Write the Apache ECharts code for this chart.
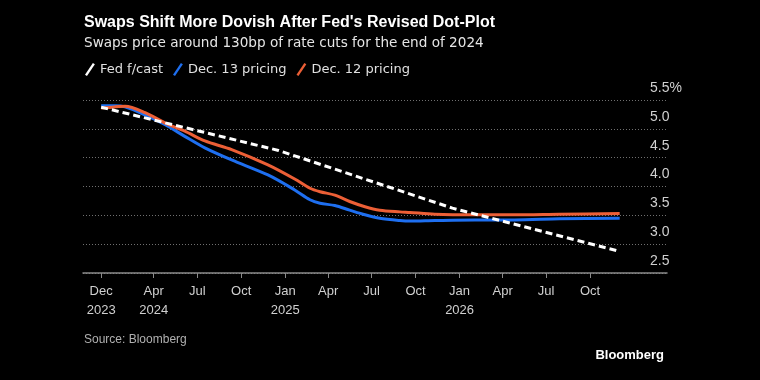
<!DOCTYPE html>
<html>
<head>
<meta charset="utf-8">
<script src="https://cdn.jsdelivr.net/npm/echarts@6/dist/echarts.min.js"></script>
<style>
html,body{margin:0;padding:0;background:#000;}
#c{width:760px;height:380px;}
</style>
</head>
<body>
<div id="c"></div>
<script>
// ---- data ----
var fedDates = ['2023-12-13', '2024-12-18', '2025-12-17', '2026-12-02'];
var fedValues = [5.375, 4.625, 3.625, 2.875];

var pricingDates = ['2023-12-13', '2024-01-10', '2024-02-01', '2024-03-14', '2024-04-25', '2024-06-05', '2024-07-17',
  '2024-09-11', '2024-11-26', '2025-01-21', '2025-02-22', '2025-03-15', '2025-04-15', '2025-05-16',
  '2025-06-17', '2025-07-18', '2025-08-29', '2025-09-19', '2025-11-10', '2026-02-02', '2026-04-26',
  '2026-07-29', '2026-12-02'];
var dec13Values = [5.40, 5.40, 5.38, 5.24, 5.07, 4.87, 4.67, 4.46, 4.20, 3.94, 3.77, 3.71, 3.67, 3.59,
  3.51, 3.45, 3.41, 3.40, 3.41, 3.42, 3.42, 3.44, 3.45];
var dec12Values = [5.36, 5.38, 5.39, 5.28, 5.10, 4.96, 4.79, 4.64, 4.375, 4.13, 3.97, 3.91, 3.85, 3.74,
  3.65, 3.59, 3.56, 3.55, 3.52, 3.51, 3.51, 3.52, 3.53];

var tickDates = ['2023-12-13', '2024-04-01', '2024-07-01', '2024-10-01', '2025-01-01', '2025-04-01',
  '2025-07-01', '2025-10-01', '2026-01-01', '2026-04-01', '2026-07-01', '2026-10-01'];
var tickLabels = ['Dec\n2023', 'Apr\n2024', 'Jul', 'Oct', 'Jan\n2025', 'Apr', 'Jul', 'Oct', 'Jan\n2026', 'Apr', 'Jul', 'Oct'];

var yTicks = [2.5, 3.0, 3.5, 4.0, 4.5, 5.0, 5.5];
var yTickLabels = ['2.5', '3.0', '3.5', '4.0', '4.5', '5.0', '5.5%'];

var seriesNames = ['Fed f/cast', 'Dec. 13 pricing', 'Dec. 12 pricing'];

// ---- build ----
function ts(d) { return new Date(d + 'T00:00:00Z').getTime(); }
function pairs(ds, vs) { return ds.map(function (d, i) { return [ts(d), vs[i]]; }); }
var tickTs = tickDates.map(ts);

var chart = echarts.init(document.getElementById('c'), null, { renderer: 'canvas' });
var slash = 'path://M0,12 L8,0 L10,1.2 L2,13.2 Z';
var FONT = 'Liberation Sans';
var WIDE = 'DejaVu Sans';
chart.setOption({
  backgroundColor: '#000',
  animation: false,
  title: [
    { text: "Swaps Shift More Dovish After Fed's Revised Dot-Plot", left: 84, top: 15, padding: 0,
      textStyle: { color: '#fff', fontSize: 16, fontWeight: 'bold', fontFamily: 'Liberation Sans' } },
    { text: 'Swaps price around 130bp of rate cuts for the end of 2024', left: 84, top: 36, padding: 0,
      textStyle: { color: '#e6e6e6', fontSize: 13.6, fontWeight: 'normal', fontFamily: WIDE } },
    { text: 'Source: Bloomberg', left: 84, top: 334, padding: 0,
      textStyle: { color: '#b0b0b0', fontSize: 12, fontWeight: 'normal', fontFamily: FONT } },
    { text: 'Bloomberg', right: 96, top: 349, padding: 0,
      textStyle: { color: '#fff', fontSize: 13, fontWeight: 'bold', fontFamily: FONT } }
  ],
  legend: {
    left: 85, top: 63, padding: 0, icon: slash, itemWidth: 10, itemHeight: 13, itemGap: 10,
    data: seriesNames,
    textStyle: { color: '#e0e0e0', fontSize: 13, fontFamily: WIDE }
  },
  grid: { left: 83, right: 93, top: 100, bottom: 107, containLabel: false },
  xAxis: {
    type: 'value',
    min: ts('2023-11-05'), max: ts('2027-03-11'),
    axisLine: { onZero: false, lineStyle: { color: '#8a8a8a', width: 1.5 } },
    axisTick: { show: true, customValues: tickTs, length: 5, lineStyle: { color: '#8a8a8a' } },
    axisLabel: {
      customValues: tickTs, color: '#d0d0d0', fontSize: 13, fontFamily: FONT, lineHeight: 19, margin: 9,
      formatter: function (v) { var i = tickTs.indexOf(v); return i >= 0 ? tickLabels[i] : ''; }
    },
    splitLine: { show: false }
  },
  yAxis: {
    type: 'value', position: 'right', min: 2.5, max: 5.5, interval: 0.5,
    axisLine: { show: false }, axisTick: { show: false },
    axisLabel: {
      inside: true, align: 'left', verticalAlign: 'bottom', margin: 17, color: '#d0d0d0', fontSize: 14,
      fontFamily: FONT, padding: [0, 0, 5, 0],
      formatter: function (v) { var i = yTicks.indexOf(Math.round(v * 10) / 10); return i >= 0 ? yTickLabels[i] : ''; }
    },
    splitLine: { show: true, lineStyle: { color: '#707070', type: [1, 2], width: 1 } }
  },
  series: [
    { name: seriesNames[0], type: 'line', data: pairs(fedDates, fedValues), showSymbol: false, symbol: 'none',
      color: '#ffffff', itemStyle: { color: '#ffffff' },
      lineStyle: { color: '#ffffff', width: 3, type: [7, 4] }, z: 5 },
    { name: seriesNames[1], type: 'line', data: pairs(pricingDates, dec13Values), showSymbol: false, symbol: 'none',
      smooth: 0.3, color: '#1e6ff0', itemStyle: { color: '#1e6ff0' },
      lineStyle: { color: '#1e6ff0', width: 3 }, z: 3 },
    { name: seriesNames[2], type: 'line', data: pairs(pricingDates, dec12Values), showSymbol: false, symbol: 'none',
      smooth: 0.3, color: '#ec5f36', itemStyle: { color: '#ec5f36' },
      lineStyle: { color: '#ec5f36', width: 3 }, z: 4 }
  ]
});
</script>
</body>
</html>
